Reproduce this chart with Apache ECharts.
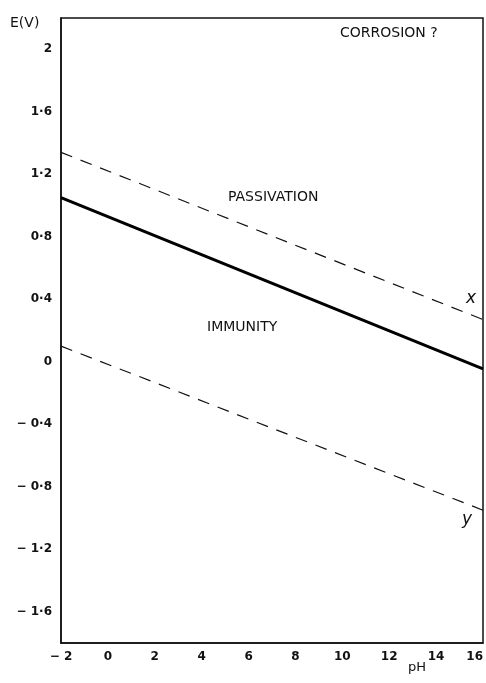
<!DOCTYPE html>
<html><head><meta charset="utf-8">
<script src="https://cdn.jsdelivr.net/npm/echarts@6/dist/echarts.min.js"></script>
<style>html,body{margin:0;padding:0;background:#fff}#c{width:486px;height:683px}</style>
</head><body><div id="c"></div>
<script>
// pH endpoints of each line
const pH = [-2, 16];
// E (V) values of each line at those pH
const upperDashed = [1.34, 0.27];
const solidLine = [1.05, -0.045];
const lowerDashed = [0.10, -0.95];
// axis ticks
const xTickValues = [-2, 0, 2, 4, 6, 8, 10, 12, 14, 16];
const xTickLabels = ['− 2', '0', '2', '4', '6', '8', '10', '12', '14', '16'];
const yTickValues = [2, 1.6, 1.2, 0.8, 0.4, 0, -0.4, -0.8, -1.2, -1.6];
const yTickLabels = ['2', '1·6', '1·2', '0·8', '0·4', '0', '− 0·4', '− 0·8', '− 1·2', '− 1·6'];
// region labels
const regionLabels = ['CORROSION ?', 'PASSIVATION', 'IMMUNITY'];
const lineTags = ['x', 'y'];

const font = 'DejaVu Sans';
const pair = (ys) => pH.map((x, i) => [x, ys[i]]);
function lab(v, vals, labs) {
  for (let i = 0; i < vals.length; i++) if (Math.abs(vals[i] - v) < 1e-6) return labs[i];
  return '';
}
const chart = echarts.init(document.getElementById('c'), null, {renderer: 'canvas'});
chart.setOption({
  animation: false,
  backgroundColor: '#fff',
  grid: {left: 61, right: 3, top: 18, bottom: 40, show: true, borderColor: '#111', borderWidth: 1.5,
    backgroundColor: 'transparent', containLabel: false, outerBoundsMode: 'none'},
  xAxis: {
    type: 'value', min: -2, max: 16, interval: 2,
    axisLine: {show: true, onZero: false, lineStyle: {color: '#111', width: 1.5}},
    axisTick: {show: false}, splitLine: {show: false},
    axisLabel: {margin: 8, color: '#111', fontFamily: font, fontSize: 12, fontWeight: 'bold',
      alignMaxLabel: 'right',
      formatter: v => lab(v, xTickValues, xTickLabels)}
  },
  yAxis: {
    type: 'value', min: -1.8, max: 2.2, interval: 0.2,
    axisLine: {show: true, onZero: false, lineStyle: {color: '#111', width: 1.5}},
    axisTick: {show: false}, splitLine: {show: false},
    axisLabel: {margin: 9, color: '#111', fontFamily: font, fontSize: 12, fontWeight: 'bold',
      formatter: v => lab(v, yTickValues, yTickLabels)}
  },
  series: [
    {type: 'line', data: pair(upperDashed), symbol: 'none', lineStyle: {color: '#111', width: 1.2, type: [12, 9]}},
    {type: 'line', data: pair(solidLine), symbol: 'none', lineStyle: {color: '#000', width: 3}},
    {type: 'line', data: pair(lowerDashed), symbol: 'none', lineStyle: {color: '#111', width: 1.2, type: [12, 9]}}
  ],
  graphic: [
    {type: 'text', left: 10, top: 16, style: {text: 'E(V)', font: '14px ' + font, fill: '#111'}},
    {type: 'text', left: 408, top: 661, style: {text: 'pH', font: '13px ' + font, fill: '#111'}},
    {type: 'text', left: 340, top: 26, style: {text: regionLabels[0], font: '14px ' + font, fill: '#111'}},
    {type: 'text', left: 228, top: 190, style: {text: regionLabels[1], font: '14px ' + font, fill: '#111'}},
    {type: 'text', left: 207, top: 320, style: {text: regionLabels[2], font: '14px ' + font, fill: '#111'}},
    {type: 'text', left: 466, top: 290, style: {text: lineTags[0], font: 'italic 17px ' + font, fill: '#111'}},
    {type: 'text', left: 462, top: 511, style: {text: lineTags[1], font: 'italic 17px ' + font, fill: '#111'}}
  ]
});
</script></body></html>
